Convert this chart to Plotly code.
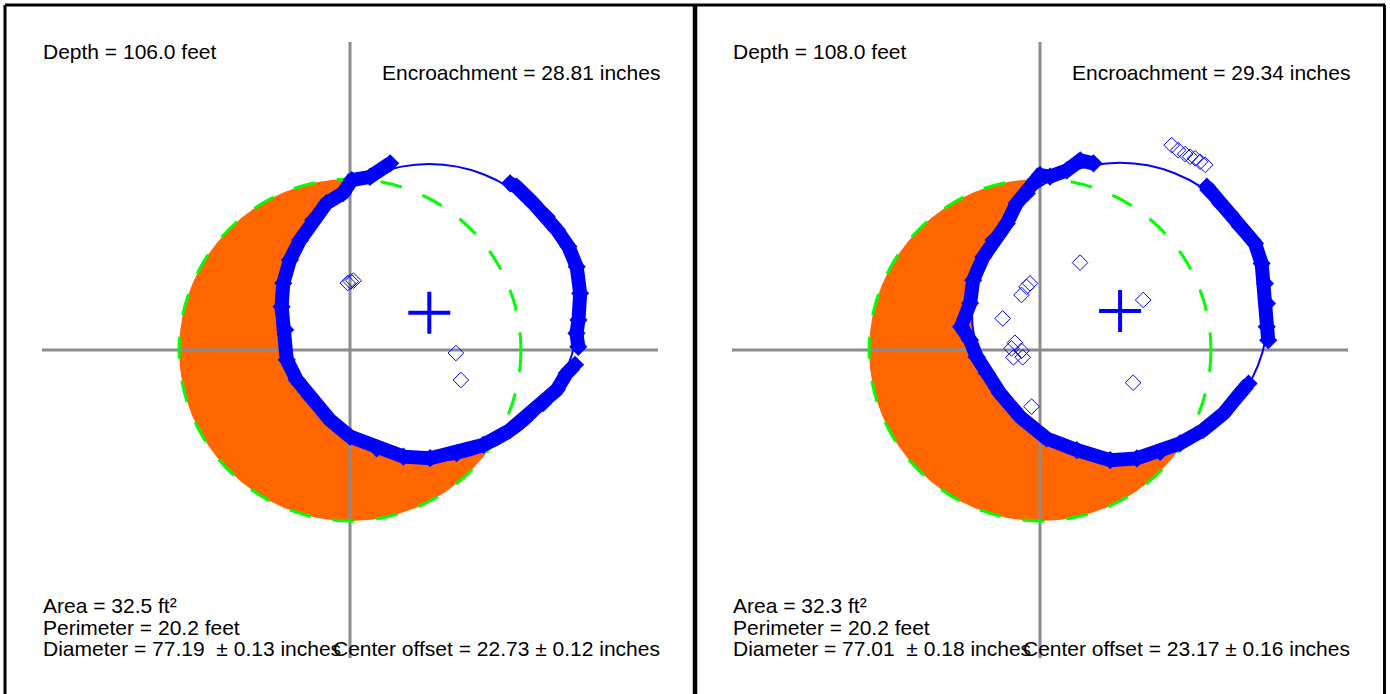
import math
import plotly.graph_objects as go

# ---------------- data (inches unless stated) ----------------
depth_ft = [106.0, 108.0]
encroachment_in = [28.81, 29.34]
area_ft2 = [32.5, 32.3]
perimeter_ft = [20.2, 20.2]
diameter_in = [77.19, 77.01]
diameter_err_in = [0.13, 0.18]
center_offset_in = [22.73, 23.17]
center_offset_err_in = [0.12, 0.16]

fit_center_x = [20.6, 20.8]
fit_center_y = [9.7, 10.1]
design_radius = [44.4, 44.4]

# measured profile, polar around fitted centre (None = gap in data)
left_angle_deg = [104.7, 113.6, 120.3, 125.8, 133.2, 141.4, 150.6, 159.3, 168.6, 177.7,
                  186.8, 198.3, 206.9, 215.2, 227.2, 237.4, 248.8, 259.8, 270.3, 281.0,
                  292.2, 304.5, 315.0, 321.5, 328.8, 336.2, 340.3, None,
                  347.1, 352.0, 357.2, 367.3, 377.3, 385.4, 393.0, 399.3, 406.5, 415.3, 418.0]
left_radius = [40.1, 38.5, 39.9, 38.3, 39.0, 38.6, 38.5, 38.7, 38.7, 38.4,
               37.7, 39.0, 38.6, 37.9, 38.0, 38.2, 37.8, 38.0, 37.8, 37.2,
               37.1, 37.0, 37.0, 37.8, 38.7, 39.0, 40.2, None,
               39.7, 38.6, 38.8, 39.5, 40.1, 40.0, 39.5, 39.4, 39.2, 39.8, 39.6]

right_angle_deg = [100.2, 104.8, 110.7, 117.5, 120.5, 128.4, 133.8, 142.3, 150.7, 158.3,
                   168.1, 177.0, 185.6, 190.9, 197.7, 205.0, 214.4, 226.6, 240.0, 252.7,
                   266.2, 276.5, 285.9, 294.4, 305.0, 315.3, 325.6, 330.6, None,
                   348.9, 353.9, 363.0, 370.8, 378.6, 386.6, 395.1, 401.6, 407.1, 413.9, 415.1]
right_radius = [39.0, 40.5, 39.1, 39.4, 41.0, 39.0, 38.8, 37.2, 37.7, 38.2,
                39.0, 39.0, 41.5, 39.7, 39.1, 38.2, 37.8, 37.8, 38.2, 37.8,
                38.8, 38.5, 38.0, 37.7, 37.7, 37.8, 37.8, 38.3, None,
                39.2, 38.3, 38.2, 38.3, 38.8, 39.2, 38.1, 38.2, 38.2, 38.9, 39.4]

# rejected (outlier) points, x/y relative to design centre
left_outlier_x = [-0.6, 0.2, 0.9, 27.5, 28.8]
left_outlier_y = [17.4, 17.8, 18.0, -0.8, -7.8]
right_outlier_x = [34.2, 35.9, 37.7, 39.0, 40.3, 41.6, 42.9, 10.4, 26.8, -2.6, -3.5, -4.8,
                   -9.7, -6.5, -4.8, -7.4, -6.9, -4.5, -2.2, 24.2]
right_outlier_y = [53.2, 51.9, 50.9, 50.2, 49.8, 48.9, 48.1, 22.7, 13.0, 17.3, 16.4, 14.3,
                   8.2, 1.9, -0.2, 0.4, -1.9, -1.9, -14.7, -8.5]

profiles = [(left_angle_deg, left_radius), (right_angle_deg, right_radius)]
outliers = [(left_outlier_x, left_outlier_y), (right_outlier_x, right_outlier_y)]

# ---------------- layout constants ----------------
W, H = 1390, 694
S = 3.85            # pixels per inch
AX = 80             # half length of the cross-hair axes (inches)
ORIGIN_PX = [(350, 350), (1040, 350)]
PANEL_PX = [(0, 695), (695, 1390)]
BLUE = "#0000FF"
ORANGE = "#FF6600"
GREEN = "#00FF00"
GRAY = "#8C8C8C"
FONT = dict(family="Liberation Sans, Arial, sans-serif", size=21, color="black")

fig = go.Figure()
shapes = []
annotations = []

for i in range(2):
    xa = "x" if i == 0 else "x2"
    ya = "y" if i == 0 else "y2"
    cx, cy = fit_center_x[i], fit_center_y[i]
    rf = diameter_in[i] / 2
    rd = design_radius[i]

    # design circle filled (encroachment) and measured opening in white
    shapes.append(dict(type="circle", xref=xa, yref=ya, x0=-rd, x1=rd, y0=-rd, y1=rd,
                       fillcolor=ORANGE, line=dict(width=0), layer="below"))
    shapes.append(dict(type="circle", xref=xa, yref=ya, x0=cx - rf, x1=cx + rf,
                       y0=cy - rf, y1=cy + rf, fillcolor="white", line=dict(width=0),
                       layer="below"))
    # cross-hair axes
    shapes.append(dict(type="line", xref=xa, yref=ya, x0=-AX, x1=AX, y0=0, y1=0,
                       line=dict(color=GRAY, width=3), layer="below"))
    shapes.append(dict(type="line", xref=xa, yref=ya, x0=0, x1=0, y0=-AX, y1=AX,
                       line=dict(color=GRAY, width=3), layer="below"))
    # design circle outline (dashed)
    shapes.append(dict(type="circle", xref=xa, yref=ya, x0=-rd, x1=rd, y0=-rd, y1=rd,
                       line=dict(color=GREEN, width=3, dash="22px,22px"), layer="below"))
    # fitted circle outline
    shapes.append(dict(type="circle", xref=xa, yref=ya, x0=cx - rf, x1=cx + rf,
                       y0=cy - rf, y1=cy + rf, line=dict(color=BLUE, width=2),
                       layer="below"))

    # measured profile
    angs, rads = profiles[i]
    px, py = [], []
    for a, r in zip(angs, rads):
        if a is None:
            px.append(None)
            py.append(None)
        else:
            px.append(cx + r * math.cos(math.radians(a)))
            py.append(cy + r * math.sin(math.radians(a)))
    fig.add_trace(go.Scatter(x=px, y=py, xaxis=xa, yaxis=ya, mode="lines+markers",
                             line=dict(color=BLUE, width=14),
                             marker=dict(symbol="diamond", size=14, color=BLUE),
                             connectgaps=False, hoverinfo="skip", showlegend=False))
    ox, oy = outliers[i]
    fig.add_trace(go.Scatter(x=ox, y=oy, xaxis=xa, yaxis=ya, mode="markers",
                             marker=dict(symbol="diamond-open", size=12, color=BLUE,
                                         line=dict(width=1, color=BLUE)),
                             hoverinfo="skip", showlegend=False))
    # fitted centre
    fig.add_trace(go.Scatter(x=[cx], y=[cy], xaxis=xa, yaxis=ya, mode="markers",
                             marker=dict(symbol="cross-thin", size=30,
                                         line=dict(width=4, color=BLUE)),
                             hoverinfo="skip", showlegend=False))

    texts = [
        (f"Depth = {depth_ft[i]:.1f} feet", -80.0, 77.6, "left"),
        (f"Encroachment = {encroachment_in[i]:.2f} inches", 80.8, 72.1, "right"),
        (f"Area = {area_ft2[i]:.1f} ft²", -80.0, -66.3, "left"),
        (f"Perimeter = {perimeter_ft[i]:.1f} feet", -80.0, -72.0, "left"),
        (f"Diameter = {diameter_in[i]:.2f}  ± {diameter_err_in[i]:.2f} inches", -80.0, -77.5, "left"),
        (f"Center offset = {center_offset_in[i]:.2f} ± {center_offset_err_in[i]:.2f} inches", 80.8, -77.5, "right"),
    ]
    for t, x, y, anc in texts:
        annotations.append(dict(text=t, x=x, y=y, xref=xa, yref=ya, xanchor=anc,
                                yanchor="middle", showarrow=False, font=FONT,
                                borderpad=0))

# panel frames
def hx(p):
    return p / W

def vy(p):
    return 1 - p / H

frame = dict(color="black", width=3)
shapes += [
    dict(type="line", xref="paper", yref="paper", x0=hx(5), x1=hx(1385), y0=vy(5), y1=vy(5), line=frame, layer="above"),
    dict(type="line", xref="paper", yref="paper", x0=hx(5), x1=hx(5), y0=vy(5), y1=vy(700), line=frame, layer="above"),
    dict(type="line", xref="paper", yref="paper", x0=hx(695), x1=hx(695), y0=vy(5), y1=vy(700), line=dict(color="black", width=4.5), layer="above"),
    dict(type="line", xref="paper", yref="paper", x0=hx(1384.5), x1=hx(1384.5), y0=vy(5), y1=vy(700), line=frame, layer="above"),
]

def xr(i):
    o = ORIGIN_PX[i][0]
    a, b = PANEL_PX[i]
    return [(a - o) / S, (b - o) / S]

yr = [-(H - 350) / S, 350 / S]
ax_common = dict(visible=False, showgrid=False, zeroline=False, fixedrange=True)

fig.update_layout(
    width=W, height=H,
    margin=dict(l=0, r=0, t=0, b=0, pad=0),
    paper_bgcolor="white", plot_bgcolor="white",
    showlegend=False,
    xaxis=dict(domain=[0, 0.5], range=xr(0), anchor="y", **ax_common),
    yaxis=dict(domain=[0, 1], range=yr, anchor="x", **ax_common),
    xaxis2=dict(domain=[0.5, 1], range=xr(1), anchor="y2", **ax_common),
    yaxis2=dict(domain=[0, 1], range=yr, anchor="x2", **ax_common),
    shapes=shapes,
    annotations=annotations,
)

fig.write_html("out.html", config={"displayModeBar": False},
               post_script="document.body.style.margin='0';document.body.style.overflow='hidden';")
